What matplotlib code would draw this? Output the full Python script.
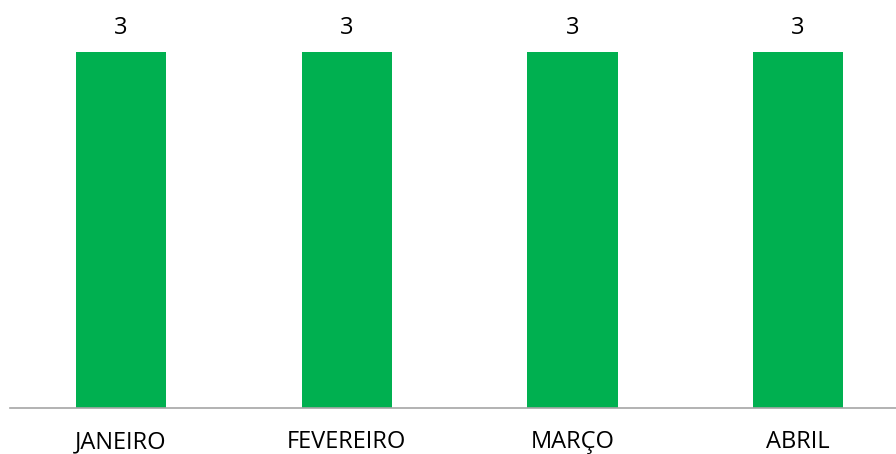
import matplotlib.pyplot as plt

# Dados do gráfico
meses = ["JANEIRO", "FEVEREIRO", "MARÇO", "ABRIL"]
valores = [3, 3, 3, 3]

plt.rcParams['font.family'] = ['Open Sans', 'DejaVu Sans']

fig = plt.figure(figsize=(8.96, 4.54), dpi=100)
ax = fig.add_axes([10 / 896, 1 - 408 / 454, 1 - 10 / 896, 391.6 / 454])

x = range(len(meses))
bars = ax.bar(x, valores, width=0.40, color='#00B050')

for xi, v in zip(x, valores):
    ax.text(xi, v + 0.1, str(v), ha='center', va='bottom', fontsize=17, color='black')

ax.set_xlim(-0.492, 3.434)
ax.set_ylim(0, 3.3)
ax.set_xticks(list(x))
ax.set_xticklabels(meses, fontsize=17)
ax.tick_params(axis='x', length=0, pad=16)
ax.set_yticks([])
for s in ['top', 'right', 'left']:
    ax.spines[s].set_visible(False)
ax.spines['bottom'].set_color('#A6A6A6')
ax.spines['bottom'].set_linewidth(1.2)

fig.savefig('out.png', dpi=100)
